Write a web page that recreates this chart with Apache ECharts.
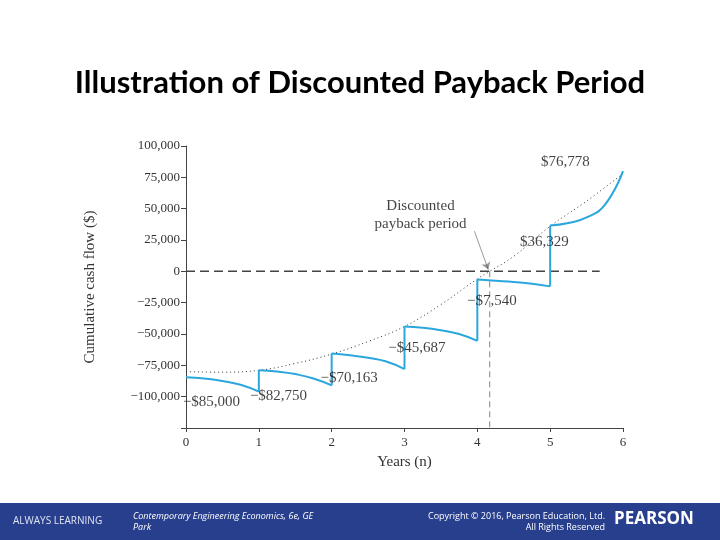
<!DOCTYPE html>
<html><head><meta charset="utf-8">
<script src="https://cdn.jsdelivr.net/npm/echarts@6/dist/echarts.min.js"></script>
<style>html,body{margin:0;padding:0;background:#fff}#c{width:720px;height:540px}</style>
</head><body><div id="c"></div>
<script>
// segments: [x, value] pairs per year (cumulative cash flow, $)
var seg0 = [[0,-84500],[0.25,-85500],[0.5,-87500],[0.75,-90500],[1,-96000]];
var seg1 = [[1,-79000],[1.25,-80000],[1.5,-82000],[1.75,-85500],[2,-91000]];
var seg2 = [[2,-65500],[2.25,-67000],[2.5,-69000],[2.75,-72000],[3,-78000]];
var seg3 = [[3,-44000],[3.25,-45000],[3.5,-47000],[3.75,-50000],[4,-55500]];
var seg4 = [[4,-6500],[4.25,-7500],[4.5,-8500],[4.75,-10000],[5,-12000]];
var seg5 = [[5,36500],[5.25,38500],[5.5,43000],[5.75,53000],[6,80000]];
var trend = [[0,-80000],[0.5,-80500],[1,-79000],[1.5,-73500],[2,-66000],[2.5,-56000],[3,-44000],[3.5,-26500],[4,-6000],[4.17,0],[4.5,12000],[5,36000],[5.5,56000],[6,78000]];
var paybackYear = 4.17;
var yTicks = [100000,75000,50000,25000,0,-25000,-50000,-75000,-100000];
var labels = [
  {x:0.35,y:-104000,t:'\u2212$85,000'},
  {x:1.27,y:-99400,t:'\u2212$82,750'},
  {x:2.24,y:-85000,t:'\u2212$70,163'},
  {x:3.17,y:-61500,t:'\u2212$45,687'},
  {x:4.2,y:-23600,t:'\u2212$7,540'},
  {x:4.92,y:23400,t:'$36,329'},
  {x:5.21,y:86800,t:'$76,778'},
  {x:3.22,y:51800,t:'Discounted'},
  {x:3.22,y:37500,t:'payback period'}
];
var segs=[seg0,seg1,seg2,seg3,seg4,seg5];
var serif='"Liberation Serif","DejaVu Serif",serif';
var cyan='#2aa7dc';
var series=[];
segs.forEach(function(s){
  series.push({type:'line',data:s,smooth:0.5,symbol:'none',lineStyle:{color:cyan,width:2},z:5});
});
for(var i=0;i<5;i++){
  series.push({type:'line',data:[segs[i][segs[i].length-1],segs[i+1][0]],symbol:'none',lineStyle:{color:cyan,width:2},z:5});
}
series.push({type:'line',data:trend,smooth:0.4,symbol:'none',lineStyle:{color:'#333',width:1,type:[1,3]},z:3});
series.push({type:'line',data:[[0,0],[5.68,0]],symbol:'none',lineStyle:{color:'#444',width:1.5,type:[9,5]},z:2});
series.push({type:'line',data:[[paybackYear,0],[paybackYear,-125000]],symbol:'none',lineStyle:{color:'#666',width:0.8,type:[6,4]},z:2});
series.push({type:'lines',coordinateSystem:'cartesian2d',symbol:['none','arrow'],symbolSize:7,
  lineStyle:{color:'#333',width:1},data:[{coords:[[3.96,32000],[4.15,1500]]}]});
series.push({type:'scatter',symbolSize:0,data:labels.map(function(l){return {value:[l.x,l.y],label:{formatter:l.t}};}),
  label:{show:true,position:'inside',color:'#111',fontFamily:serif,fontSize:15},z:6,silent:true});
var chart=echarts.init(document.getElementById('c'));
chart.setOption({
  backgroundColor:'#fff',
  animation:false,
  title:{text:'Illustration of Discounted Payback Period',left:'center',top:62,
    textStyle:{fontFamily:'Lato',fontWeight:'bold',fontSize:31,color:'#000'}},
  grid:{left:186,right:97,top:146,bottom:112},
  xAxis:{type:'value',min:0,max:6,interval:1,name:'Years (n)',nameLocation:'middle',nameGap:27,
    nameTextStyle:{fontFamily:serif,fontSize:15,color:'#333'},
    axisLine:{onZero:false,lineStyle:{color:'#444'}},axisTick:{lineStyle:{color:'#444'},length:4},
    axisLabel:{fontFamily:serif,fontSize:13,color:'#333'},splitLine:{show:false}},
  yAxis:{type:'value',min:-125000,max:100000,interval:25000,name:'Cumulative cash flow ($)',nameLocation:'middle',nameGap:88,
    nameTextStyle:{fontFamily:serif,fontSize:15,color:'#333'},
    axisLine:{show:true,lineStyle:{color:'#444'}},axisTick:{show:true,length:5,lineStyle:{color:'#444'}},
    axisLabel:{fontFamily:serif,fontSize:13,color:'#333',margin:6,formatter:function(v){
      if(yTicks.indexOf(v)<0) return '';
      var s=Math.abs(v).toLocaleString('en-US'); return v<0?'\u2212'+s:s;}},
    splitLine:{show:false}},
  series:series,
  graphic:[
    {type:'rect',shape:{x:0,y:503,width:720,height:37},style:{fill:'#283f8e'}},
    {type:'text',left:13,top:516,style:{text:'ALWAYS LEARNING',fill:'#dfe4f2',font:'10px "Open Sans"'}},
    {type:'text',left:133,top:511,style:{text:'Contemporary Engineering Economics, 6e, GE\nPark',fill:'#fff',font:'italic 9px "Open Sans"',lineHeight:11}},
    {type:'text',x:605,y:511,style:{text:'Copyright \u00a9 2016, Pearson Education, Ltd.\nAll Rights Reserved',fill:'#fff',font:'9px "Open Sans"',textAlign:'right',lineHeight:11}},
    {type:'text',left:614,top:511,style:{text:'PEARSON',fill:'#fff',font:'bold 17px "Open Sans"'}}
  ]
});
</script></body></html>
